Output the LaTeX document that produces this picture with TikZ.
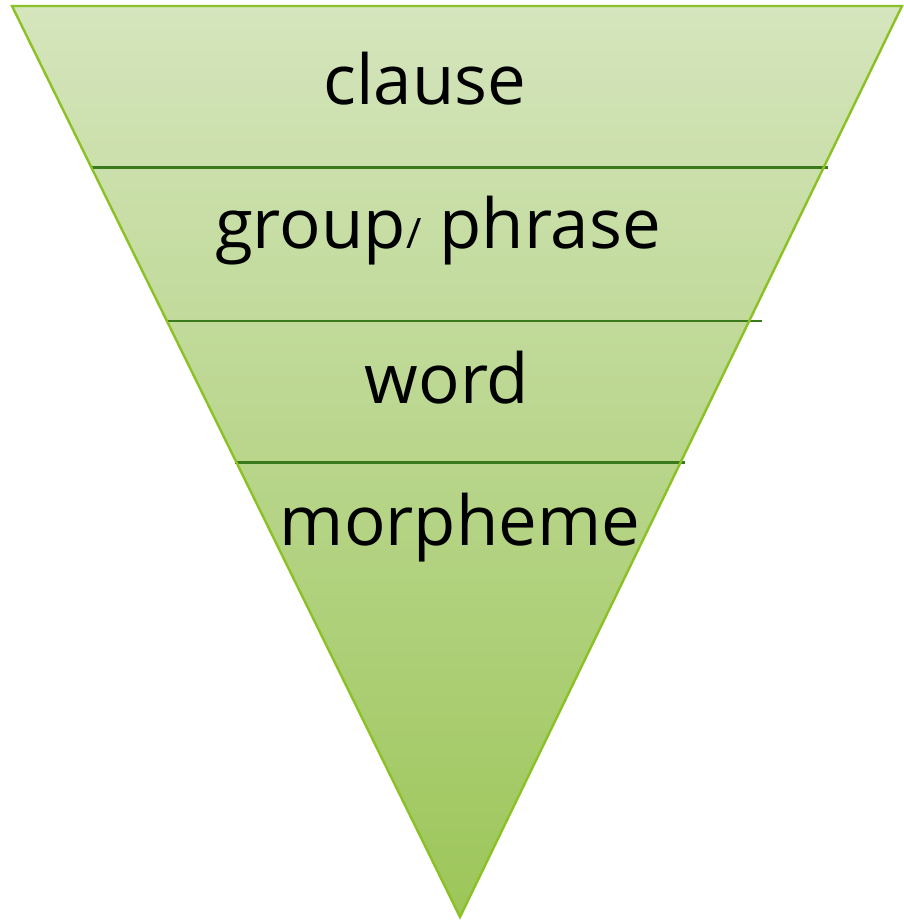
\documentclass[tikz,border=0pt]{standalone}
\usepackage{fontspec}
\setmainfont{Open Sans}
\definecolor{topgreen}{HTML}{D5E5BD}
\definecolor{botgreen}{HTML}{9CC659}
\definecolor{edgegreen}{HTML}{8CC125}
\definecolor{linegreen}{HTML}{3B7A1C}
\tikzset{
  divider/.style={draw=linegreen, line width=2.2pt},
  label/.style={font=\fontsize{69}{78}\selectfont, anchor=base, inner sep=0pt}
}
\begin{document}
\begin{tikzpicture}[x=1pt,y=-1pt]
\useasboundingbox (0,0) rectangle (903,921);
\coordinate (tl) at (12,6);
\coordinate (tr) at (902,6);
\coordinate (ap) at (460,917);
\shade[top color=topgreen, bottom color=botgreen] (tl) -- (tr) -- (ap) -- cycle;
\coordinate (a1) at (92,167.5);
\coordinate (b1) at (828,167.5);
\coordinate (a2) at (168,321);
\coordinate (b2) at (762,321);
\coordinate (a3) at (235,462.5);
\coordinate (b3) at (685,462.5);
\draw[divider] (a1) -- (b1);
\draw[divider] (a2) -- (b2);
\draw[divider] (a3) -- (b3);
\draw[edgegreen, line width=2.4pt, line join=miter] (tl) -- (tr) -- (ap) -- cycle;
\node[label] (clause) at (425,104) {clause};
\node[label] (group) at (438,248) {group{\fontsize{42}{48}\selectfont/} phrase};
\node[label] (word) at (447,403) {word};
\node[label] (morph) at (460,545) {morpheme};
\end{tikzpicture}
\end{document}
